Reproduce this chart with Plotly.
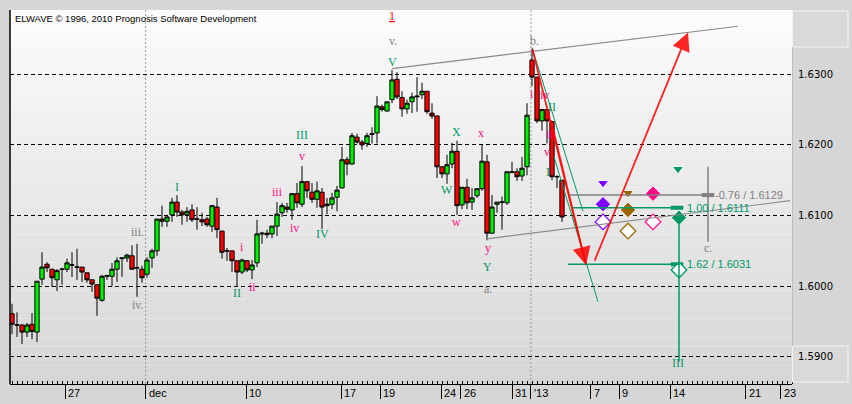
import plotly.graph_objects as go

# ---------------- data ----------------
opens = [1.5961, 1.5945, 1.5945, 1.5935, 1.5946, 1.5935, 1.6010, 1.6031, 1.6024, 1.6009,
         1.6024, 1.6024, 1.6030, 1.6027, 1.6027, 1.6019, 1.6009, 1.6002, 1.5980, 1.6014,
         1.6014, 1.6024, 1.6039, 1.6040, 1.6043, 1.6026, 1.6024, 1.6017, 1.6040, 1.6050,
         1.6095, 1.6092, 1.6101, 1.6119, 1.6105, 1.6101, 1.6108, 1.6095, 1.6094, 1.6095,
         1.6085, 1.6112, 1.6078, 1.6050, 1.6050, 1.6036, 1.6020, 1.6036, 1.6023, 1.6033,
         1.6074, 1.6075, 1.6074, 1.6085, 1.6104, 1.6112, 1.6108, 1.6131, 1.6116, 1.6148,
         1.6133, 1.6123, 1.6133, 1.6114, 1.6116, 1.6126, 1.6139, 1.6179, 1.6173, 1.6211,
         1.6204, 1.6202, 1.6216, 1.6217, 1.6254, 1.6248, 1.6264, 1.6293, 1.6267, 1.6251,
         1.6261, 1.6268, 1.6271, 1.6276, 1.6245, 1.6241, 1.6169, 1.6159, 1.6173, 1.6191,
         1.6115, 1.6140, 1.6119, 1.6128, 1.6138, 1.6176, 1.6075, 1.6116, 1.6119, 1.6118,
         1.6162, 1.6162, 1.6156, 1.6169, 1.6320, 1.6296, 1.6234, 1.6250, 1.6233, 1.6155,
         1.6150]
highs = [1.5975, 1.5963, 1.5946, 1.5948, 1.5962, 1.6007, 1.6048, 1.6034, 1.6024, 1.6024,
         1.6026, 1.6039, 1.6048, 1.6053, 1.6027, 1.6019, 1.6009, 1.6002, 1.6016, 1.6016,
         1.6033, 1.6041, 1.6040, 1.6046, 1.6058, 1.6060, 1.6029, 1.6041, 1.6053, 1.6095,
         1.6114, 1.6101, 1.6125, 1.6129, 1.6108, 1.6112, 1.6116, 1.6112, 1.6104, 1.6098,
         1.6115, 1.6125, 1.6078, 1.6054, 1.6050, 1.6036, 1.6039, 1.6037, 1.6037, 1.6094,
         1.6077, 1.6080, 1.6085, 1.6119, 1.6118, 1.6118, 1.6131, 1.6146, 1.6170, 1.6148,
         1.6146, 1.6148, 1.6139, 1.6125, 1.6132, 1.6142, 1.6197, 1.6183, 1.6217, 1.6216,
         1.6207, 1.6217, 1.6225, 1.6269, 1.6257, 1.6261, 1.6306, 1.6303, 1.6276, 1.6264,
         1.6274, 1.6296, 1.6288, 1.6276, 1.6259, 1.6241, 1.6169, 1.6186, 1.6203, 1.6206,
         1.6140, 1.6152, 1.6139, 1.6138, 1.6200, 1.6186, 1.6129, 1.6119, 1.6127, 1.6162,
         1.6176, 1.6167, 1.6183, 1.6259, 1.6336, 1.6296, 1.6250, 1.6250, 1.6233, 1.6157,
         1.6150]
lows = [1.5932, 1.5928, 1.5918, 1.5928, 1.5925, 1.5921, 1.6002, 1.6020, 1.5999, 1.5993,
        1.6002, 1.6020, 1.6013, 1.6009, 1.6006, 1.6005, 1.5992, 1.5958, 1.5978, 1.6009,
        1.6000, 1.6006, 1.6013, 1.6034, 1.6024, 1.5985, 1.6005, 1.6012, 1.6026, 1.6043,
        1.6084, 1.6084, 1.6091, 1.6098, 1.6087, 1.6091, 1.6091, 1.6080, 1.6085, 1.6084,
        1.6077, 1.6068, 1.6039, 1.6036, 1.6020, 1.5999, 1.6017, 1.6020, 1.6010, 1.6027,
        1.6060, 1.6068, 1.6068, 1.6071, 1.6098, 1.6104, 1.6094, 1.6111, 1.6112, 1.6125,
        1.6118, 1.6111, 1.6081, 1.6102, 1.6109, 1.6106, 1.6139, 1.6157, 1.6172, 1.6202,
        1.6193, 1.6197, 1.6202, 1.6202, 1.6247, 1.6247, 1.6259, 1.6265, 1.6240, 1.6244,
        1.6245, 1.6247, 1.6265, 1.6244, 1.6237, 1.6153, 1.6153, 1.6145, 1.6167, 1.6101,
        1.6109, 1.6109, 1.6108, 1.6125, 1.6135, 1.6065, 1.6074, 1.6104, 1.6080, 1.6115,
        1.6160, 1.6149, 1.6149, 1.6157, 1.6283, 1.6231, 1.6220, 1.6202, 1.6150, 1.6139,
        1.6091]
closes = [1.5946, 1.5945, 1.5935, 1.5945, 1.5936, 1.6007, 1.6027, 1.6026, 1.6012, 1.6022,
          1.6024, 1.6033, 1.6030, 1.6027, 1.6020, 1.6009, 1.6003, 1.5983, 1.6014, 1.6015,
          1.6024, 1.6036, 1.6040, 1.6044, 1.6024, 1.6026, 1.6012, 1.6037, 1.6050, 1.6095,
          1.6092, 1.6098, 1.6119, 1.6105, 1.6101, 1.6106, 1.6094, 1.6095, 1.6091, 1.6087,
          1.6114, 1.6080, 1.6048, 1.6050, 1.6036, 1.6020, 1.6037, 1.6023, 1.6030, 1.6074,
          1.6075, 1.6073, 1.6085, 1.6102, 1.6114, 1.6109, 1.6131, 1.6118, 1.6148, 1.6135,
          1.6123, 1.6135, 1.6112, 1.6116, 1.6125, 1.6136, 1.6179, 1.6173, 1.6213, 1.6204,
          1.6200, 1.6213, 1.6215, 1.6255, 1.6250, 1.6261, 1.6292, 1.6268, 1.6251, 1.6259,
          1.6268, 1.6269, 1.6276, 1.6247, 1.6241, 1.6169, 1.6159, 1.6172, 1.6191, 1.6114,
          1.6140, 1.6118, 1.6125, 1.6138, 1.6177, 1.6075, 1.6112, 1.6119, 1.6119, 1.6162,
          1.6161, 1.6155, 1.6167, 1.6242, 1.6296, 1.6234, 1.6250, 1.6234, 1.6155, 1.6155,
          1.6098]
bar_index = list(range(len(opens)))

tick_pos = [10.64, 26.72, 46.82, 65.84, 73.68, 85.84, 89.76, 100.08, 103.78,
            115.72, 121.48, 131.6, 146.7, 153.76]
tick_text = ["27", "dec", "10", "17", "19", "24", "26", "31", "'13",
             "7", "9", "14", "21", "23"]
separator_pos = [26.72, 103.78]
price_ticks = [1.59, 1.60, 1.61, 1.62, 1.63]

# wave labels (text, bar position, price)
gray_labels = [("iii.", 25.0, 1.6077), ("iv.", 25.2, 1.5973), ("v.", 76.2, 1.6347),
               ("a.", 95.2, 1.5996), ("b.", 104.4, 1.6347), ("c.", 139.2, 1.6054)]
green_labels = [("I", 33.0, 1.6140), ("II", 45.0, 1.5990), ("III", 58.0, 1.6214),
                ("IV", 62.0, 1.6074), ("V", 76.0, 1.6317), ("W", 87.0, 1.6136),
                ("X", 88.8, 1.6218), ("Y", 95.0, 1.6027), ("II", 108.0, 1.6254),
                ("I", 107.2, 1.6162), ("III", 133.2, 1.5891)]
pink_labels = [("i", 46.0, 1.6056), ("ii", 48.0, 1.5999), ("iii", 53.0, 1.6133),
               ("iv", 56.4, 1.6082), ("v", 58.0, 1.6184), ("w", 88.8, 1.6091),
               ("x", 93.8, 1.6217), ("y", 95.2, 1.6054), ("i", 104.0, 1.6272),
               ("iv", 106.4, 1.6271), ("iii", 107.8, 1.6216), ("v", 107.0, 1.6190)]
red_labels = [("1", 76.0, 1.6383)]

# trend / channel lines ((x0, y0), (x1, y1))
channel_lines = [((76.0, 1.6308), (145.2, 1.6368)), ((95.0, 1.6067), (155.6, 1.6121))]
green_diagonals = [((104.0, 1.6338), (114.2, 1.6106)), ((108.4, 1.6183), (117.2, 1.5978))]
red_arrows = [((104.0, 1.6338), (114.8, 1.6030)), ((116.4, 1.6034), (135.2, 1.6359))]
red_plain = [((107.8, 1.6235), (114.8, 1.6030))]

# projection levels
level_ratio = ["-0.76", "1.00", "1.62"]
level_price = [1.6129, 1.6111, 1.6031]
level_start = [111.2, 112.0, 111.2]
level_end = [139.2, 133.6, 133.6]
level_mark = [139.2, 133.0, 133.0]
level_kind = ["gray", "green", "green"]
gray_vline = (139.2, 1.6169, 1.6063)
green_vline = (133.4, 1.6097, 1.5893)

# target markers
purple_pts = {"tri": (118.2, 1.6146), "full": (118.2, 1.6116), "open": (118.2, 1.6091)}
brown_pts = {"tri": (123.2, 1.6132), "full": (123.2, 1.6108), "open": (123.2, 1.6078)}
pink_pts = {"tri": (128.2, 1.6135), "full": (128.2, 1.6131), "open": (128.2, 1.6091)}
green_pts = {"tri": (133.2, 1.6166), "full": (133.4, 1.6097), "open": (133.4, 1.6023)}

# ---------------- style ----------------
GREEN = "#009966"
PINK = "#ff0a84"
GRAY = "#808080"
RED = "#ff0000"
PURPLE = "#8000ff"
BROWN = "#996600"
PAPER = "#d6d6d6"
XR = [-0.4, 156.0]
YR = [1.58615, 1.6391]

fig = go.Figure()

# gradient plot background
shapes = []
nb = 40
for k in range(nb):
    t = k / (nb - 1)
    c = int(round(252 - (252 - 214) * t))
    shapes.append(dict(type="rect", xref="paper", yref="paper", x0=0, x1=1,
                       y0=1 - (k + 1) / nb, y1=1 - k / nb, layer="below",
                       line=dict(width=0), fillcolor=f"rgb({c},{c},{c})"))

# separators
for sp in separator_pos:
    shapes.append(dict(type="line", xref="x", yref="paper", x0=sp, x1=sp, y0=0, y1=1,
                       layer="below", line=dict(color="#9a9a9a", width=1, dash="2px,2px")))

# left border
shapes.append(dict(type="line", xref="paper", yref="paper", x0=0, x1=0, y0=0, y1=1,
                   line=dict(color="black", width=1.5)))

# right panel boxes
PX = 782.0
PY = 374.0
def px2paper_x(px):
    return (px - 10) / PX
def py2paper_y(py):
    return (384 - py) / PY
shapes.append(dict(type="rect", xref="paper", yref="paper",
                   x0=px2paper_x(792.5), x1=px2paper_x(848), y0=py2paper_y(47), y1=py2paper_y(11),
                   line=dict(color="#f4f4f4", width=1), fillcolor="#d9d9d9"))
shapes.append(dict(type="rect", xref="paper", yref="paper",
                   x0=px2paper_x(792.5), x1=px2paper_x(848), y0=py2paper_y(382), y1=py2paper_y(346),
                   line=dict(color="#f4f4f4", width=1), fillcolor="#d9d9d9"))
shapes.append(dict(type="line", xref="paper", yref="paper",
                   x0=px2paper_x(792.5), x1=px2paper_x(792.5), y0=py2paper_y(346), y1=py2paper_y(47),
                   line=dict(color="#bdbdbd", width=1)))

# channel lines
for (a, b) in channel_lines:
    shapes.append(dict(type="line", xref="x", yref="y", x0=a[0], y0=a[1], x1=b[0], y1=b[1],
                       line=dict(color="#8a8a8a", width=1.2)))
for (a, b) in green_diagonals:
    shapes.append(dict(type="line", xref="x", yref="y", x0=a[0], y0=a[1], x1=b[0], y1=b[1],
                       line=dict(color=GREEN, width=1)))
for (a, b) in red_plain:
    shapes.append(dict(type="line", xref="x", yref="y", x0=a[0], y0=a[1], x1=b[0], y1=b[1],
                       line=dict(color="rgba(255,0,0,0.75)", width=1.8)))

# level lines
for r, p, s, e, kind in zip(level_ratio, level_price, level_start, level_end, level_kind):
    col = GRAY if kind == "gray" else GREEN
    shapes.append(dict(type="line", xref="x", yref="y", x0=s, x1=e, y0=p, y1=p,
                       line=dict(color=col, width=1.5)))
shapes.append(dict(type="line", xref="x", yref="y", x0=gray_vline[0], x1=gray_vline[0],
                   y0=gray_vline[1], y1=gray_vline[2], line=dict(color=GRAY, width=1.5)))
shapes.append(dict(type="line", xref="x", yref="y", x0=green_vline[0], x1=green_vline[0],
                   y0=green_vline[1], y1=green_vline[2], line=dict(color=GREEN, width=1.5)))

# candles
fig.add_trace(go.Candlestick(
    x=bar_index, open=opens, high=highs, low=lows, close=closes,
    increasing=dict(fillcolor="#00ee00", line=dict(color="black", width=1)),
    decreasing=dict(fillcolor="#ff0000", line=dict(color="black", width=1)),
    whiskerwidth=0, showlegend=False, hoverinfo="skip"))

# level dash markers
for p, m, kind in zip(level_price, level_mark, level_kind):
    col = GRAY if kind == "gray" else GREEN
    fig.add_trace(go.Scatter(x=[m], y=[p], mode="markers", showlegend=False, hoverinfo="skip",
                             marker=dict(symbol="line-ew", size=9, line=dict(color=col, width=4))))

# target markers
for pts, col in [(purple_pts, PURPLE), (brown_pts, BROWN), (pink_pts, PINK), (green_pts, GREEN)]:
    tx, ty = pts["tri"]
    fig.add_trace(go.Scatter(x=[tx], y=[ty], mode="markers", showlegend=False, hoverinfo="skip",
                             marker=dict(symbol="triangle-down", size=10, color=col,
                                         line=dict(color="white", width=1))))
    fx, fy = pts["full"]
    fig.add_trace(go.Scatter(x=[fx], y=[fy], mode="markers", showlegend=False, hoverinfo="skip",
                             marker=dict(symbol="diamond", size=12, color=col,
                                         line=dict(color="white", width=1))))
    ox, oy = pts["open"]
    fig.add_trace(go.Scatter(x=[ox], y=[oy], mode="markers", showlegend=False, hoverinfo="skip",
                             marker=dict(symbol="diamond", size=12, color="white",
                                         line=dict(color=col, width=1.3))))

annotations = []
# title
annotations.append(dict(xref="paper", yref="paper", x=0, y=1, xanchor="left", yanchor="top",
                        xshift=3, yshift=-1, showarrow=False,
                        text="ELWAVE \u00a9 1996, 2010 Prognosis Software Development",
                        font=dict(family="Liberation Sans", size=9.5, color="black")))
# x tick labels
for tp, tt in zip(tick_pos, tick_text):
    annotations.append(dict(xref="x", yref="paper", x=tp, y=0, xanchor="left", yanchor="top",
                            xshift=1, yshift=-1, showarrow=False, text=tt,
                            font=dict(family="Liberation Sans", size=11, color="black")))
# y tick labels (left-aligned in the right panel)
for pt in price_ticks:
    annotations.append(dict(xref="paper", yref="y", x=1, y=pt, xanchor="left", yanchor="middle",
                            xshift=4, showarrow=False, text=f"{pt:.4f}",
                            font=dict(family="DejaVu Sans", size=10, color="black")))
# wave labels
for group, col in [(gray_labels, GRAY), (green_labels, GREEN), (pink_labels, PINK), (red_labels, RED)]:
    for txt, lx, ly in group:
        t = f"<u>{txt}</u>" if col == RED else txt
        annotations.append(dict(xref="x", yref="y", x=lx, y=ly, showarrow=False, text=t,
                                font=dict(family="Liberation Serif", size=12, color=col)))
# level texts
for r, p, e, kind in zip(level_ratio, level_price, level_end, level_kind):
    col = GRAY if kind == "gray" else GREEN
    annotations.append(dict(xref="x", yref="y", x=e, y=p, xanchor="left", yanchor="middle",
                            xshift=5, showarrow=False, text=f"{r} / {p:.4f}",
                            font=dict(family="Liberation Sans", size=11, color=col)))
# red arrows
for (a, b) in red_arrows:
    annotations.append(dict(xref="x", yref="y", axref="x", ayref="y", x=b[0], y=b[1],
                            ax=a[0], ay=a[1], text="", showarrow=True, arrowhead=2,
                            arrowsize=2, arrowwidth=1.8, arrowcolor="rgba(255,0,0,0.85)",
                            standoff=0, startstandoff=0))

fig.update_layout(
    width=852, height=404,
    margin=dict(l=10, r=60, t=10, b=20, autoexpand=False),
    paper_bgcolor=PAPER, plot_bgcolor="white",
    shapes=shapes, annotations=annotations,
    boxgap=0.15, boxgroupgap=0,
    xaxis=dict(range=XR, showgrid=False, zeroline=False, rangeslider=dict(visible=False),
               showline=True, linecolor="black", linewidth=1, automargin=False,
               tickmode="array", tickvals=tick_pos, ticktext=tick_text, showticklabels=False,
               ticks="outside", ticklen=14, tickwidth=1, tickcolor="black",
               minor=dict(tickmode="linear", tick0=0, dtick=1, ticks="inside", ticklen=3,
                          tickcolor="black", tickwidth=1, showgrid=False)),
    yaxis=dict(range=YR, side="right", tickmode="array", tickvals=price_ticks,
               showticklabels=False, showgrid=True, gridcolor="black", gridwidth=1,
               automargin=False, griddash="4px,3px", zeroline=False, ticks=""),
)

fig.write_html("out.html", config={"displayModeBar": False},
               post_script="document.body.style.margin='0px';document.body.style.background='%s';" % PAPER)
